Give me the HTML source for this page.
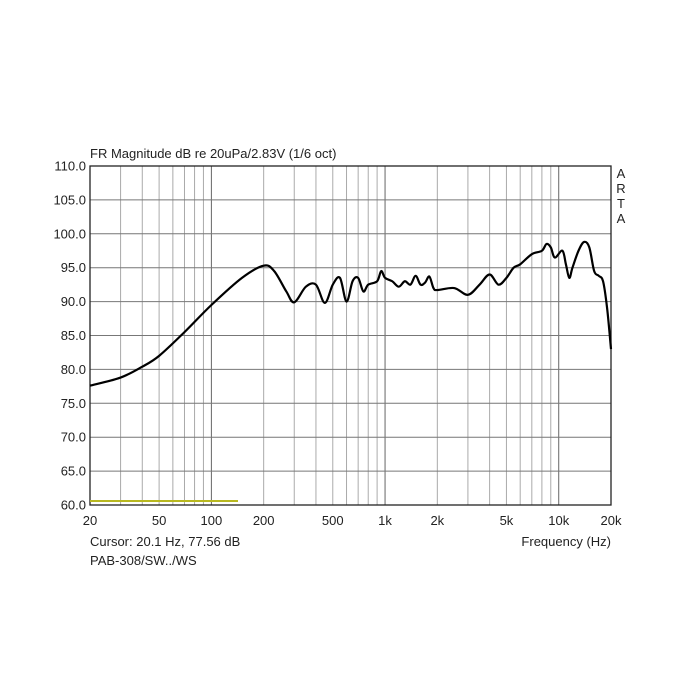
<!DOCTYPE html>
<html><head><style>
body{margin:0;background:#fff;width:700px;height:700px;overflow:hidden}
svg{display:block}
text{font-family:"Liberation Sans",Arial,sans-serif;font-size:13px;fill:#222}
</style></head><body>
<svg id="s" width="700" height="700" viewBox="0 0 700 700"></svg>
<script>
const s=document.getElementById('s');
const L=90,R=611,T=166,B=505,W=R-L,H=B-T;
const X=f=>L+W*Math.log10(f/20)/3;
const Y=d=>B-(d-60)*H/50;
let h='';
for(let dec=10;dec<=10000;dec*=10){for(let m=1;m<10;m++){const f=dec*m;if(f<=20||f>=20000)continue;
 const major=(m==1);h+=`<line x1="${X(f)}" x2="${X(f)}" y1="${T}" y2="${B}" stroke="${major?'#666':'#aaa'}" stroke-width="1"/>`;}}
for(let d=65;d<110;d+=5)h+=`<line x1="${L}" x2="${R}" y1="${Y(d)}" y2="${Y(d)}" stroke="#777" stroke-width="1"/>`;
h+=`<rect x="${L}" y="${T}" width="${W}" height="${H}" fill="none" stroke="#222" stroke-width="1.3"/>`;
for(let d=60;d<=110;d+=5)h+=`<text x="86" y="${Y(d)+4.5}" text-anchor="end">${d.toFixed(1)}</text>`;
const xl=[[20,'20'],[50,'50'],[100,'100'],[200,'200'],[500,'500'],[1000,'1k'],[2000,'2k'],[5000,'5k'],[10000,'10k'],[20000,'20k']];
xl.forEach(([f,t])=>h+=`<text x="${X(f)}" y="525" text-anchor="middle">${t}</text>`);
h+=`<text x="90" y="158">FR Magnitude dB re 20uPa/2.83V (1/6 oct)</text>`;
['A','R','T','A'].forEach((c,i)=>h+=`<text x="621" y="${178+i*15}" text-anchor="middle">${c}</text>`);
h+=`<text x="90" y="546">Cursor: 20.1 Hz, 77.56 dB</text>`;
h+=`<text x="90" y="565">PAB-308/SW../WS</text>`;
h+=`<text x="611" y="546" text-anchor="end">Frequency (Hz)</text>`;
h+=`<line x1="${L}" x2="238" y1="501" y2="501" stroke="#b8b820" stroke-width="2"/>`;
const D=[[20,77.6],[30,78.8],[40,80.4],[50,82],[70,85.5],[100,89.5],[150,93.5],[200,95.3],[230,94.5],[270,91.5],[300,89.9],[350,92.2],[400,92.5],[450,89.8],[500,92.5],[550,93.5],[600,90],[650,93],[700,93.5],[750,91.5],[800,92.5],[900,93],[950,94.5],[1000,93.5],[1100,93],[1200,92.2],[1300,93],[1400,92.5],[1500,93.8],[1600,92.5],[1700,92.8],[1800,93.7],[1900,92],[2000,91.7],[2500,92],[3000,91],[3500,92.5],[4000,94],[4500,92.5],[5000,93.5],[5500,95],[6000,95.5],[7000,97],[8000,97.5],[8500,98.5],[9000,98],[9500,96.5],[10500,97.5],[11000,95.5],[11500,93.5],[12000,95],[13000,97.5],[14000,98.8],[15000,98],[16000,94.5],[17000,93.8],[18000,93],[19000,89],[20000,83]];
const P=D.map(([f,d])=>[X(f),Y(d)]);
let p=`M${P[0][0]},${P[0][1]}`;
for(let i=0;i<P.length-1;i++){const p0=P[i-1]||P[i],p1=P[i],p2=P[i+1],p3=P[i+2]||p2;
 const c1=[p1[0]+(p2[0]-p0[0])/6,p1[1]+(p2[1]-p0[1])/6],c2=[p2[0]-(p3[0]-p1[0])/6,p2[1]-(p3[1]-p1[1])/6];
 p+=`C${c1[0]},${c1[1]} ${c2[0]},${c2[1]} ${p2[0]},${p2[1]}`;}
h+=`<path d="${p}" fill="none" stroke="#000" stroke-width="2.2" stroke-linejoin="round"/>`;
s.innerHTML=h;
</script>
</body></html>
